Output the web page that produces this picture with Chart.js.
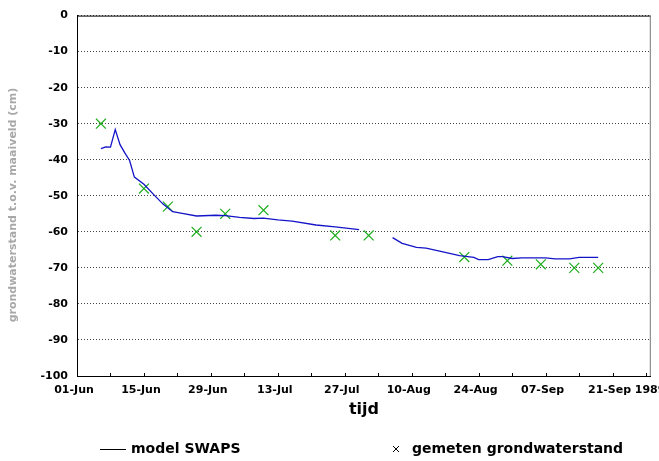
<!DOCTYPE html>
<html>
<head>
<meta charset="utf-8">
<script src="https://cdn.jsdelivr.net/npm/chart.js@4.4.1/dist/chart.umd.min.js"></script>
<style>
  html, body { margin: 0; padding: 0; background: #fff; }
  #wrap { width: 659px; height: 461px; position: relative; }
</style>
</head>
<body>
<div id="wrap"><canvas id="gwChart" width="659" height="461"></canvas></div>
<script>
// dagen vanaf 1 juni 1989
const xTickLabels = ['01-Jun', '15-Jun', '29-Jun', '13-Jul', '27-Jul', '10-Aug', '24-Aug', '07-Sep', '21-Sep'];
const yTickValues = [0, -10, -20, -30, -40, -50, -60, -70, -80, -90, -100];

// model SWAPS (null = geen uitvoer)
const modelDays = [5, 6, 7, 8, 9, 10, 11, 12, 14, 16, 18, 20, 22, 25, 29, 31, 34, 37, 39, 42, 45, 50, 54, 59,
    62,
    66, 68, 71, 73, 77, 80, 83, 84, 86, 88, 89, 91, 93, 98, 100, 103, 105, 109];
const modelLevels = [-36.9, -36.4, -36.5, -31.6, -35.8, -38.1, -40.2, -44.8, -46.8, -49.6, -52.3, -54.4, -54.9, -55.6, -55.4, -55.5, -56.0, -56.3, -56.2, -56.7, -57.0, -58.1, -58.6, -59.4,
    null,
    -61.6, -63.2, -64.3, -64.5, -65.7, -66.6, -67.1, -67.7, -67.7, -66.9, -66.9, -67.4, -67.2, -67.2, -67.5, -67.5, -67.1, -67.1];

// gemeten grondwaterstand
const measuredDays = [5, 14, 19, 25, 31, 39, 54, 61, 81, 90, 97, 104, 109];
const measuredLevels = [-30, -48, -53, -60, -55, -54, -61, -61, -67, -68, -69, -70, -70];

const FONT = 'DejaVu Sans';

const framePlugin = {
    id: 'frame',
    afterDraw(chart) {
        const ctx = chart.ctx;
        const a = chart.chartArea;
        const xs = chart.scales.x;
        ctx.save();
        // bovenrand en rechterrand
        ctx.lineWidth = 1;
        ctx.strokeStyle = '#000';
        ctx.beginPath();
        ctx.moveTo(a.left, a.top + 0.5);
        ctx.lineTo(a.right, a.top + 0.5);
        ctx.stroke();
        ctx.strokeStyle = '#777';
        ctx.beginPath();
        ctx.moveTo(a.right - 0.5, a.top);
        ctx.lineTo(a.right - 0.5, a.bottom);
        ctx.stroke();
        // streepjes per week, naar binnen
        ctx.strokeStyle = '#000';
        xs.ticks.forEach(t => {
            const px = Math.round(xs.getPixelForValue(t.value)) + 0.5;
            ctx.beginPath();
            ctx.moveTo(px, a.bottom);
            ctx.lineTo(px, a.bottom - 3);
            ctx.stroke();
        });
        // jaartal achter de laatste datum
        ctx.fillStyle = '#000';
        ctx.font = 'bold 11px "' + FONT + '"';
        ctx.textAlign = 'left';
        ctx.textBaseline = 'middle';
        ctx.fillText('1989', a.right - 16, a.bottom + 14);
        // as-titels
        ctx.font = 'bold 16px "' + FONT + '"';
        ctx.textAlign = 'center';
        ctx.fillText('tijd', 364, 410);
        ctx.save();
        ctx.translate(13, 205);
        ctx.rotate(-Math.PI / 2);
        ctx.font = 'bold 11px "' + FONT + '"';
        ctx.fillStyle = '#a8a8a8';
        ctx.fillText('grondwaterstand t.o.v. maaiveld (cm)', 0, 0);
        ctx.restore();
        // legenda
        const ly = 449;
        ctx.strokeStyle = '#000';
        ctx.beginPath();
        ctx.moveTo(100, ly + 0.5);
        ctx.lineTo(126, ly + 0.5);
        ctx.stroke();
        ctx.beginPath();
        ctx.moveTo(393, ly - 3);
        ctx.lineTo(399, ly + 3);
        ctx.moveTo(399, ly - 3);
        ctx.lineTo(393, ly + 3);
        ctx.stroke();
        ctx.font = 'bold 14px "' + FONT + '"';
        ctx.textAlign = 'left';
        ctx.fillText('model SWAPS', 131, ly);
        ctx.fillText('gemeten grondwaterstand', 412, ly);
        ctx.restore();
    }
};

new Chart(document.getElementById('gwChart'), {
    type: 'line',
    data: {
        datasets: [
            {
                label: 'model SWAPS',
                data: modelDays.map((d, i) => ({ x: d, y: modelLevels[i] })),
                borderColor: '#1414c8',
                borderWidth: 1.3,
                pointRadius: 0,
                spanGaps: false,
                tension: 0
            },
            {
                label: 'gemeten grondwaterstand',
                data: measuredDays.map((d, i) => ({ x: d, y: measuredLevels[i] })),
                showLine: false,
                pointStyle: 'crossRot',
                pointRadius: 7,
                borderColor: '#1cae1c',
                backgroundColor: '#1cae1c',
                pointBorderWidth: 1.2
            }
        ]
    },
    options: {
        responsive: false,
        animation: false,
        events: [],
        layout: { padding: { top: 14, right: 8, left: 0, bottom: 0 } },
        plugins: {
            legend: { display: false },
            tooltip: { enabled: false }
        },
        scales: {
            x: {
                type: 'linear',
                min: 0,
                max: 120,
                afterFit: s => { s.height = 85; },
                afterBuildTicks: s => {
                    s.ticks = [];
                    for (let d = 0; d <= 119; d += 7) s.ticks.push({ value: d });
                },
                grid: { display: false, drawTicks: false },
                border: { display: true, color: '#000', width: 1 },
                ticks: {
                    autoSkip: false,
                    maxRotation: 0,
                    minRotation: 0,
                    padding: 8,
                    labelOffset: -3,
                    color: '#000',
                    font: { family: FONT, size: 11, weight: 'bold' },
                    callback: v => (v % 14 === 0 ? xTickLabels[v / 14] : '')
                }
            },
            y: {
                min: -100,
                max: 0,
                afterFit: s => { s.width = 77; },
                afterBuildTicks: s => { s.ticks = yTickValues.map(v => ({ value: v })); },
                grid: { color: '#444', lineWidth: 1, drawTicks: false },
                border: { display: true, color: '#000', width: 1, dash: [1, 2] },
                ticks: {
                    padding: 9,
                    color: '#000',
                    font: { family: FONT, size: 11, weight: 'bold' }
                }
            }
        }
    },
    plugins: [framePlugin]
});
</script>
</body>
</html>
